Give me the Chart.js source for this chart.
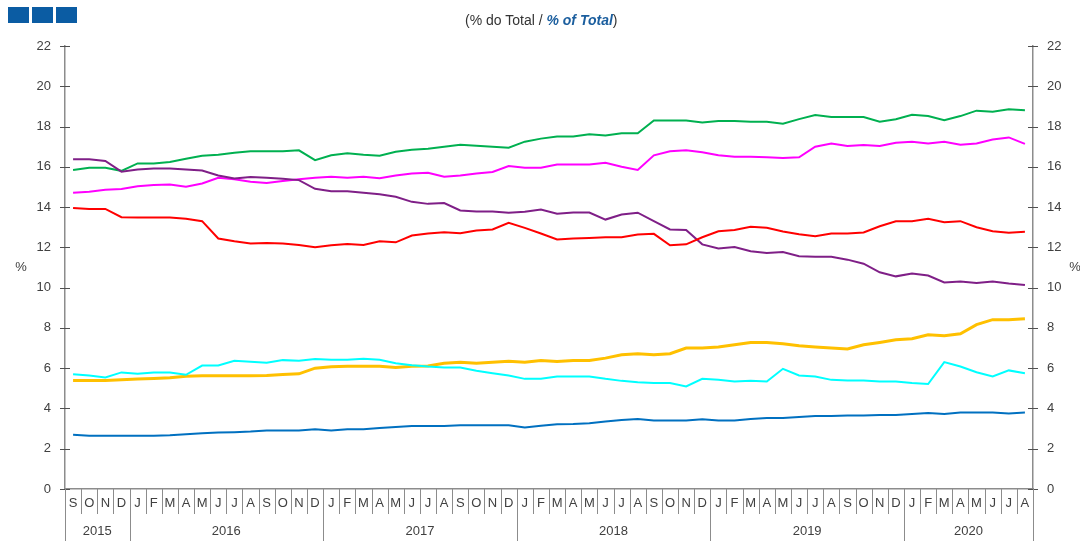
<!DOCTYPE html>
<html>
<head>
<meta charset="utf-8">
<script src="https://cdn.jsdelivr.net/npm/chart.js@4.4.0/dist/chart.umd.min.js"></script>
<style>
  body { margin: 0; background: #fff; }
  #wrap { position: relative; width: 1080px; height: 541px; }
  .sq { position: absolute; top: 7px; width: 21px; height: 16px; background: #0b5ca3; }
  #title { position: absolute; left: 465px; top: 12px; font: 14px 'Liberation Sans', Arial, sans-serif; color: #333; white-space: nowrap; }
  #title b { color: #1b5e9e; font-style: italic; }
</style>
</head>
<body>
<div id="wrap">
  <div class="sq" style="left:8px"></div>
  <div class="sq" style="left:32px"></div>
  <div class="sq" style="left:56px"></div>
  <div id="title">(% do Total / <b>% of Total</b>)</div>
  <canvas id="chart1" width="1080" height="541"></canvas>
</div>
<script>
const months = [
    'S', 'O', 'N', 'D',
    'J', 'F', 'M', 'A', 'M', 'J', 'J', 'A', 'S', 'O', 'N', 'D',
    'J', 'F', 'M', 'A', 'M', 'J', 'J', 'A', 'S', 'O', 'N', 'D',
    'J', 'F', 'M', 'A', 'M', 'J', 'J', 'A', 'S', 'O', 'N', 'D',
    'J', 'F', 'M', 'A', 'M', 'J', 'J', 'A', 'S', 'O', 'N', 'D',
    'J', 'F', 'M', 'A', 'M', 'J', 'J', 'A',
];
const years = ['2015', '2016', '2017', '2018', '2019', '2020'];
const monthsPerYear = [4, 12, 12, 12, 12, 8];
const yTicks = [0, 2, 4, 6, 8, 10, 12, 14, 16, 18, 20, 22];

const green = [
    15.84, 15.95, 15.95, 15.8, 16.17, 16.17, 16.24, 16.4, 16.55, 16.6, 16.7, 16.77, 16.77, 16.77, 16.82, 16.33,
    16.57, 16.67, 16.6, 16.55, 16.75, 16.85, 16.9, 17.0, 17.1, 17.05, 17.0, 16.95,
    17.25, 17.4, 17.5, 17.5, 17.62, 17.55, 17.67, 17.67, 18.3, 18.3, 18.3, 18.2,
    18.27, 18.27, 18.24, 18.24, 18.14, 18.37, 18.57, 18.47, 18.47, 18.47, 18.24, 18.36,
    18.59, 18.52, 18.31, 18.52, 18.79, 18.74, 18.86, 18.81,
];
const magenta = [
    14.71, 14.76, 14.86, 14.9, 15.04, 15.1, 15.12, 15.01, 15.17, 15.46, 15.38, 15.26, 15.2, 15.29, 15.38, 15.46,
    15.51, 15.46, 15.51, 15.43, 15.57, 15.67, 15.71, 15.51, 15.57, 15.67, 15.74, 16.04,
    15.95, 15.95, 16.12, 16.12, 16.12, 16.2, 16.0, 15.84, 16.57, 16.77, 16.82, 16.72,
    16.57, 16.5, 16.5, 16.47, 16.44, 16.47, 17.0, 17.16, 17.03, 17.08, 17.03, 17.2,
    17.25, 17.16, 17.25, 17.1, 17.16, 17.36, 17.46, 17.14,
];
const purple = [
    16.37, 16.37, 16.29, 15.76, 15.87, 15.92, 15.92, 15.87, 15.82, 15.57, 15.42, 15.49, 15.46, 15.41, 15.34, 14.91,
    14.79, 14.79, 14.71, 14.64, 14.51, 14.26, 14.16, 14.2, 13.83, 13.78, 13.78, 13.72,
    13.77, 13.88, 13.67, 13.73, 13.73, 13.38, 13.63, 13.72, 13.3, 12.89, 12.86, 12.15,
    11.94, 12.02, 11.81, 11.72, 11.77, 11.56, 11.53, 11.53, 11.39, 11.19, 10.76, 10.56,
    10.7, 10.6, 10.26, 10.31, 10.23, 10.31, 10.2, 10.13,
];
const red = [
    13.96, 13.91, 13.91, 13.5, 13.48, 13.48, 13.48, 13.42, 13.3, 12.44, 12.3, 12.19, 12.22, 12.19, 12.12, 12.0,
    12.1, 12.17, 12.12, 12.3, 12.25, 12.59, 12.69, 12.75, 12.7, 12.84, 12.89, 13.22,
    12.97, 12.69, 12.39, 12.44, 12.47, 12.5, 12.5, 12.64, 12.67, 12.1, 12.15, 12.5,
    12.8, 12.86, 13.02, 12.97, 12.79, 12.65, 12.55, 12.69, 12.69, 12.74, 13.05, 13.3,
    13.3, 13.42, 13.25, 13.3, 13.0, 12.8, 12.72, 12.77,
];
const orange = [
    5.39, 5.39, 5.39, 5.42, 5.46, 5.49, 5.52, 5.6, 5.62, 5.62, 5.62, 5.62, 5.64, 5.69, 5.72, 6.0,
    6.07, 6.1, 6.1, 6.1, 6.03, 6.1, 6.11, 6.25, 6.3, 6.25, 6.3, 6.35,
    6.3, 6.38, 6.33, 6.38, 6.38, 6.5, 6.67, 6.72, 6.67, 6.72, 7.0, 7.0,
    7.05, 7.16, 7.28, 7.28, 7.21, 7.11, 7.05, 7.0, 6.95, 7.16, 7.28, 7.41,
    7.46, 7.66, 7.61, 7.71, 8.16, 8.41, 8.41, 8.46,
];
const cyan = [
    5.7, 5.64, 5.54, 5.79, 5.72, 5.79, 5.79, 5.67, 6.13, 6.13, 6.37, 6.32, 6.27, 6.4, 6.37, 6.45,
    6.42, 6.42, 6.47, 6.42, 6.25, 6.15, 6.08, 6.03, 6.03, 5.87, 5.75, 5.64,
    5.47, 5.47, 5.59, 5.59, 5.59, 5.47, 5.37, 5.3, 5.26, 5.26, 5.09, 5.47,
    5.42, 5.34, 5.37, 5.34, 5.97, 5.64, 5.59, 5.42, 5.39, 5.39, 5.34, 5.34,
    5.26, 5.21, 6.3, 6.08, 5.8, 5.59, 5.89, 5.75,
];
const blue = [
    2.69, 2.64, 2.64, 2.64, 2.64, 2.64, 2.67, 2.72, 2.77, 2.8, 2.82, 2.85, 2.9, 2.9, 2.9, 2.97,
    2.9, 2.97, 2.97, 3.03, 3.08, 3.13, 3.13, 3.13, 3.17, 3.17, 3.17, 3.17,
    3.05, 3.14, 3.22, 3.23, 3.27, 3.35, 3.43, 3.48, 3.4, 3.4, 3.4, 3.46,
    3.4, 3.4, 3.48, 3.52, 3.52, 3.57, 3.62, 3.62, 3.65, 3.65, 3.68, 3.68,
    3.73, 3.77, 3.73, 3.8, 3.8, 3.8, 3.75, 3.8,
];

const labelFont = { family: "'Liberation Sans', Arial, sans-serif", size: 13 };
const axisGrey = '#8c8c8c';
const tickGrey = '#505050';
const textGrey = '#404040';

function line(label, values, color, width) {
    return {
        label: label,
        data: values,
        borderColor: color,
        backgroundColor: color,
        borderWidth: width,
        pointRadius: 0,
        tension: 0,
        fill: false,
    };
}

// separators, crossing ticks, year row and the two "%" labels
const axisDecor = {
    id: 'axisDecor',
    afterDraw(chart) {
        const { ctx, chartArea } = chart;
        const xs = chart.scales.x;
        const ys = chart.scales.y;
        const step = xs.getPixelForValue(1) - xs.getPixelForValue(0);
        const bottom = chartArea.bottom;
        ctx.save();
        ctx.lineWidth = 1;
        ctx.strokeStyle = tickGrey;
        ctx.beginPath();
        yTicks.forEach((v) => {
            const py = Math.round(ys.getPixelForValue(v)) + 0.5;
            ctx.moveTo(chartArea.left - 5, py);
            ctx.lineTo(chartArea.left + 5, py);
            ctx.moveTo(chartArea.right - 5, py);
            ctx.lineTo(chartArea.right + 5, py);
        });
        ctx.stroke();

        ctx.strokeStyle = axisGrey;
        ctx.beginPath();
        for (let i = 1; i < months.length; i++) {
            const px = Math.round(xs.getPixelForValue(i) - step / 2) + 0.5;
            ctx.moveTo(px, bottom);
            ctx.lineTo(px, bottom + 25);
        }
        let start = 0;
        const yearEdges = [0];
        monthsPerYear.forEach((n) => { start += n; yearEdges.push(start); });
        yearEdges.forEach((k) => {
            const px = Math.round(xs.getPixelForValue(k) - step / 2) + 0.5;
            ctx.moveTo(px, bottom);
            ctx.lineTo(px, chart.height);
        });
        ctx.stroke();

        ctx.fillStyle = textGrey;
        ctx.font = "13px 'Liberation Sans', Arial, sans-serif";
        ctx.textAlign = 'center';
        ctx.textBaseline = 'middle';
        years.forEach((yr, i) => {
            const a = xs.getPixelForValue(yearEdges[i]) - step / 2;
            const b = xs.getPixelForValue(yearEdges[i + 1]) - step / 2;
            ctx.fillText(yr, (a + b) / 2, bottom + 42);
        });
        const mid = (chartArea.top + chartArea.bottom) / 2;
        ctx.fillText('%', 21, mid);
        ctx.fillText('%', 1075, mid);
        ctx.restore();
    }
};

const data = {
    labels: months,
    datasets: [
        line('Azul', blue, '#0070c0', 2),
        line('Ciano', cyan, '#00ffff', 2),
        line('Laranja', orange, '#ffc000', 3),
        line('Vermelho', red, '#ff0000', 2),
        line('Roxo', purple, '#7f1f87', 2),
        line('Magenta', magenta, '#ff00ff', 2),
        line('Verde', green, '#00b050', 2),
    ]
};

const yAxis = (position) => ({
    type: 'linear',
    position: position,
    min: 0,
    max: 22,
    ticks: { stepSize: 2, color: textGrey, font: labelFont, padding: 14 },
    grid: { display: true, drawOnChartArea: false, drawTicks: false },
    border: { display: true, color: axisGrey, width: 1.5 },
});

const config = {
    type: 'line',
    data: data,
    options: {
        responsive: false,
        animation: false,
        layout: { padding: { top: 46, left: 0, right: 0, bottom: 0 } },
        plugins: {
            legend: { display: false },
            title: { display: false },
            tooltip: { enabled: false },
        },
        scales: {
            x: {
                type: 'category',
                offset: true,
                ticks: { autoSkip: false, maxRotation: 0, color: textGrey, font: labelFont, padding: 7 },
                grid: { display: true, drawOnChartArea: false, drawTicks: false, offset: true },
                border: { display: true, color: axisGrey, width: 1.5 },
                afterFit: (scale) => { scale.height = 52; },
            },
            y: Object.assign(yAxis('left'), { afterFit: (scale) => { scale.width = 65; } }),
            y2: Object.assign(yAxis('right'), { afterFit: (scale) => { scale.width = 47; } }),
        }
    },
    plugins: [axisDecor]
};

// eslint-disable-next-line
const chartOne = new Chart(
    document.getElementById('chart1'),
    config
);
</script>
</body>
</html>
